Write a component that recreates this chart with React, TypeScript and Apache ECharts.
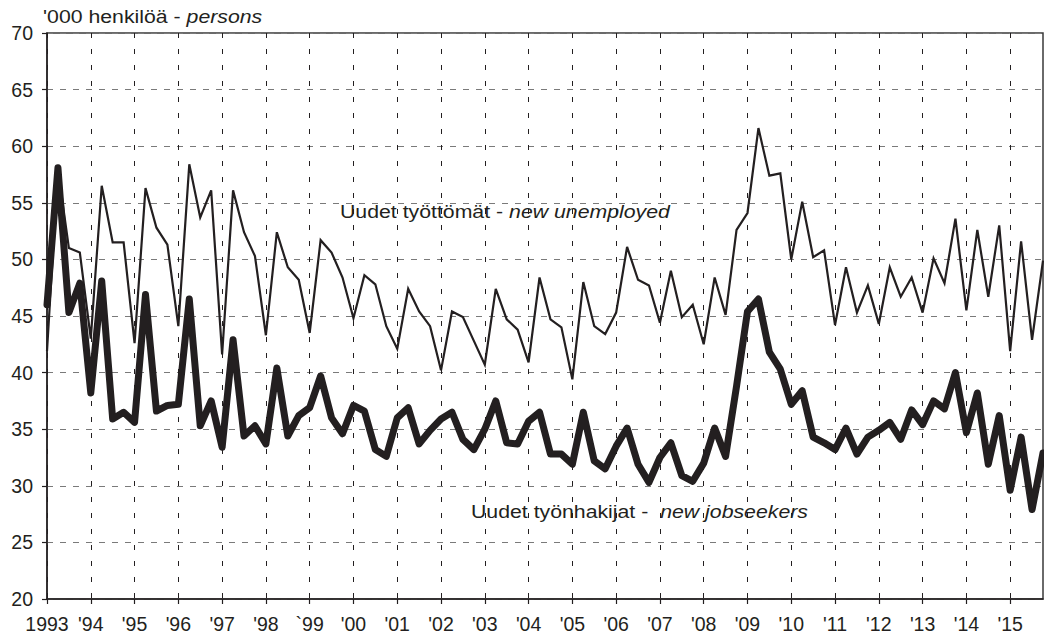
import React, { useEffect, useRef } from "react";
import * as echarts from "echarts";

const yearLabels = [
  "1993", "'94", "'95", "'96", "'97", "'98", "`99", "'00", "'01", "'02", "'03", "'04",
  "'05", "'06", "'07", "'08", "'09", "'10", "'11", "'12", "'13", "'14", "'15",
];

const quarters: string[] = [];
yearLabels.forEach((_, i) => {
  for (let q = 1; q <= 4; q++) quarters.push(`${1993 + i}Q${q}`);
});

const newUnemployed = [
  41.9, 58.0, 51.0, 50.6, 43.0, 56.5, 51.5, 51.5, 42.6, 56.3, 52.8, 51.3,
  44.1, 58.4, 53.7, 56.1, 41.6, 56.1, 52.4, 50.3, 43.3, 52.4, 49.3, 48.2,
  43.5, 51.7, 50.6, 48.4, 44.8, 48.6, 47.8, 44.1, 42.1, 47.4, 45.4, 44.1,
  40.2, 45.4, 44.9, 42.8, 40.7, 47.4, 44.7, 43.8, 40.9, 48.4, 44.7, 44.0,
  39.4, 48.0, 44.1, 43.4, 45.3, 51.1, 48.2, 47.7, 44.4, 49.0, 44.9, 46.0,
  42.5, 48.4, 45.1, 52.6, 54.1, 61.6, 57.4, 57.6, 50.0, 55.1, 50.2, 50.8,
  44.2, 49.3, 45.3, 47.7, 44.3, 49.3, 46.7, 48.4, 45.3, 50.1, 47.9, 53.6,
  45.5, 52.6, 46.7, 53.0, 41.9, 51.6, 42.9, 49.9,
];

const newJobseekers = [
  46.0, 58.1, 45.3, 47.9, 38.2, 48.1, 35.9, 36.5, 35.6, 46.9, 36.6, 37.1,
  37.2, 46.5, 35.3, 37.5, 33.4, 42.9, 34.4, 35.3, 33.7, 40.4, 34.4, 36.2,
  36.9, 39.7, 36.0, 34.6, 37.1, 36.6, 33.2, 32.6, 36.0, 36.9, 33.7, 34.9,
  35.9, 36.5, 34.1, 33.2, 35.0, 37.5, 33.8, 33.7, 35.7, 36.5, 32.8, 32.8,
  31.9, 36.5, 32.2, 31.5, 33.5, 35.1, 31.9, 30.3, 32.5, 33.8, 30.9, 30.4,
  32.0, 35.1, 32.6, 38.8, 45.4, 46.5, 41.8, 40.3, 37.2, 38.4, 34.3, 33.8,
  33.2, 35.1, 32.8, 34.3, 34.9, 35.6, 34.1, 36.7, 35.4, 37.5, 36.8, 40.0,
  34.7, 38.2, 31.9, 36.2, 29.6, 34.3, 27.9, 32.9,
];

const titleText = "'000 henkilöä - ";
const titleItalic = "persons";
const label1 = "Uudet työttömät - ";
const label1Italic = "new unemployed";
const label2 = "Uudet työnhakijat -  ";
const label2Italic = "new jobseekers";

const FONT = "'Liberation Sans', Arial, Helvetica, sans-serif";
const INK = "#231f20";

export default function App() {
  const ref = useRef<HTMLDivElement>(null);

  useEffect(() => {
    if (!ref.current) return;
    const chart = echarts.init(ref.current, null, { renderer: "svg" });
    const textFs = 18.5;
    const sx = 1.15;
    const mkText = (x: number, y: number, plain: string, italic: string) => ({
      type: "text",
      x,
      y,
      scaleX: sx,
      z: 10,
      style: {
        text: `{n|${plain}}{i|${italic}}`,
        fill: INK,
        verticalAlign: "middle",
        align: "left",
        rich: {
          n: { fontSize: textFs, fontFamily: FONT, fill: INK },
          i: { fontSize: textFs, fontFamily: FONT, fontStyle: "italic", fill: INK },
        },
      },
    });

    chart.setOption({
      animation: false,
      backgroundColor: "#ffffff",
      grid: {
        left: 47,
        right: 1,
        top: 33,
        bottom: 39,
        show: true,
        borderColor: "#3a3a3a",
        borderWidth: 1.5,
        backgroundColor: "transparent",
      },
      xAxis: {
        type: "category",
        boundaryGap: false,
        data: quarters,
        axisLine: { show: true, lineStyle: { color: INK, width: 1.5 } },
        axisTick: { show: true, interval: 3, length: 5, lineStyle: { color: INK, width: 1.2 } },
        axisLabel: {
          interval: 3,
          margin: 15,
          fontSize: 19.5,
          fontFamily: FONT,
          color: INK,
          showMinLabel: true,
          hideOverlap: false,
          formatter: (v: string) => yearLabels[parseInt(v.slice(0, 4), 10) - 1993],
        },
        splitLine: {
          show: true,
          interval: 3,
          lineStyle: { color: INK, width: 1, type: [5, 11] },
        },
      },
      yAxis: {
        type: "value",
        min: 20,
        max: 70,
        interval: 5,
        axisLine: { show: true, lineStyle: { color: INK, width: 1.5 } },
        axisTick: { show: true, length: 5, lineStyle: { color: INK, width: 1.2 } },
        axisLabel: {
          margin: 14,
          fontSize: 19.5,
          fontFamily: FONT,
          color: INK,
        },
        splitLine: {
          show: true,
          lineStyle: { color: "#7a7a7a", width: 1.2, type: [6, 7] },
        },
      },
      series: [
        {
          name: "Uudet työttömät - new unemployed",
          type: "line",
          data: newUnemployed,
          symbol: "none",
          lineStyle: { color: INK, width: 2.2, join: "miter" },
          z: 3,
        },
        {
          name: "Uudet työnhakijat - new jobseekers",
          type: "line",
          data: newJobseekers,
          symbol: "none",
          lineStyle: { color: INK, width: 7, join: "round", cap: "round" },
          z: 4,
        },
      ],
      graphic: [
        mkText(43, 17, titleText, titleItalic),
        mkText(340, 212, label1, label1Italic),
        mkText(471, 512, label2, label2Italic),
      ],
    });
    return () => chart.dispose();
  }, []);

  return (
    <div
      ref={ref}
      style={{ position: "fixed", left: 0, top: 0, width: 1044, height: 638, background: "#fff" }}
    />
  );
}
